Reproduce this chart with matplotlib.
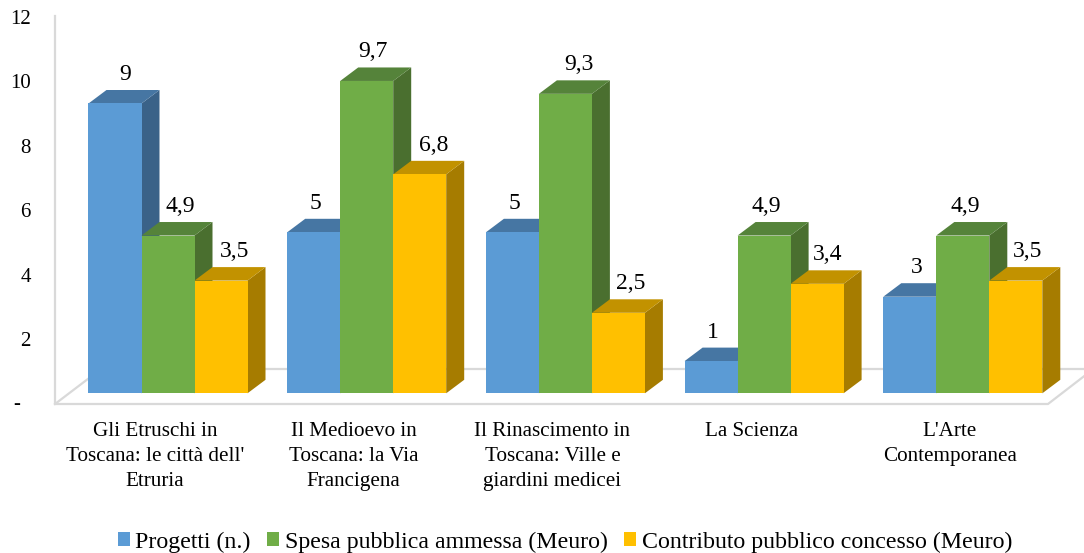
import matplotlib
matplotlib.use('Agg')
import matplotlib.pyplot as plt
from matplotlib.patches import Patch, Polygon, Rectangle

plt.rcParams['font.family'] = ['Liberation Serif', 'DejaVu Serif']

categories = [
    "Gli Etruschi in\nToscana: le città dell'\nEtruria",
    "Il Medioevo in\nToscana: la Via\nFrancigena",
    "Il Rinascimento in\nToscana: Ville e\ngiardini medicei",
    "La Scienza",
    "L'Arte\nContemporanea",
]
progetti = [9, 5, 5, 1, 3]
spesa = [4.9, 9.7, 9.3, 4.9, 4.9]
contributo = [3.5, 6.8, 2.5, 3.4, 3.5]
series_names = ['Progetti (n.)', 'Spesa pubblica ammessa (Meuro)', 'Contributo pubblico concesso (Meuro)']
y_ticks = [2, 4, 6, 8, 10, 12]

# front, top and side shades of each series
front_colors = ['#5B9BD5', '#70AD47', '#FFC000']
top_colors = ['#4676A3', '#55833A', '#C29200']
side_colors = ['#3A6288', '#4A6F2F', '#A67C00']

# horizontal shift of each value label, pixels
label_shift = [
    [10, 12, 14],
    [2, 6, 14],
    [2, 14, 12],
    [2, 2, 11],
    [7, 2, 12],
]

W, H = 1084, 553
PX_CAT = 198.7   # pixels per category
PX_UNIT = 32.2   # pixels per y unit
X0, Y0 = 168.0, 393.3   # centre of first group, baseline of the bars
BAR_W = 53 / PX_CAT
DX, DY = 18 / PX_CAT, 13.5 / PX_UNIT
AXIS_COLOR = '#D9D9D9'

fig = plt.figure(figsize=(W / 100, H / 100), dpi=100)
ax = fig.add_axes([0, 0, 1, 1])
ax.set_xlim(-X0 / PX_CAT, (W - X0) / PX_CAT)
ax.set_ylim(-(H - Y0) / PX_UNIT, Y0 / PX_UNIT)
ax.axis('off')


def xp(px):
    return (px - X0) / PX_CAT


def yp(px):
    return (Y0 - px) / PX_UNIT


# wall and floor
ax.plot([xp(55), xp(55), xp(1048), xp(1096)], [yp(16), yp(404), yp(404), yp(367)],
        color=AXIS_COLOR, lw=1.6, solid_joinstyle='miter', zorder=1)
ax.plot([xp(55), xp(101)], [yp(404), yp(369)], color=AXIS_COLOR, lw=1.6, zorder=1)
ax.plot([xp(101), xp(1092)], [yp(369), yp(369)], color=AXIS_COLOR, lw=1.6, zorder=1)

# y labels sit a little below the value they name
ax.annotate('-', (xp(17), 0), xytext=(0, -11), textcoords='offset pixels',
            ha='center', va='center', fontsize=15, color='black')
for v in y_ticks:
    ax.annotate(str(v), (xp(31), v), xytext=(0, -12.5), textcoords='offset pixels',
                ha='right', va='center', fontsize=15, color='black')

# 3D-looking bars: painted left to right so each one covers the side of the previous
all_series = [progetti, spesa, contributo]
for i in range(len(categories)):
    for s, values in enumerate(all_series):
        v = values[i]
        left = i + (s - 1.5) * BAR_W
        right = left + BAR_W
        z = 3 + i * 3 + s
        ax.add_patch(Polygon([(right, 0), (right + DX, DY), (right + DX, v + DY), (right, v)],
                             facecolor=side_colors[s], edgecolor='none', zorder=z))
        ax.add_patch(Polygon([(left, v), (left + DX, v + DY), (right + DX, v + DY), (right, v)],
                             facecolor=top_colors[s], edgecolor='none', zorder=z))
        ax.add_patch(Rectangle((left, 0), BAR_W, v, facecolor=front_colors[s],
                               edgecolor='none', zorder=z))
        label = str(v).replace('.', ',')
        ax.annotate(label, (left + BAR_W / 2, v), xytext=(label_shift[i][s], 23.5),
                    textcoords='offset pixels', ha='center', va='baseline',
                    fontsize=17, color='black', zorder=40)

for i, cat in enumerate(categories):
    ax.annotate(cat, (i, yp(422)), xytext=(-13, 0), textcoords='offset pixels',
                ha='center', va='top', fontsize=15.2, linespacing=1.43, color='black')

handles = [Patch(facecolor=c, edgecolor='none') for c in front_colors]
ax.legend(handles, series_names, ncol=3, frameon=False, loc='center',
          bbox_to_anchor=(0.521, 1 - 542 / H), fontsize=17.2,
          handlelength=0.5, handleheight=0.53, handletextpad=0.23, columnspacing=0.7,
          borderpad=0, borderaxespad=0)

fig.savefig('out.png', dpi=100)
